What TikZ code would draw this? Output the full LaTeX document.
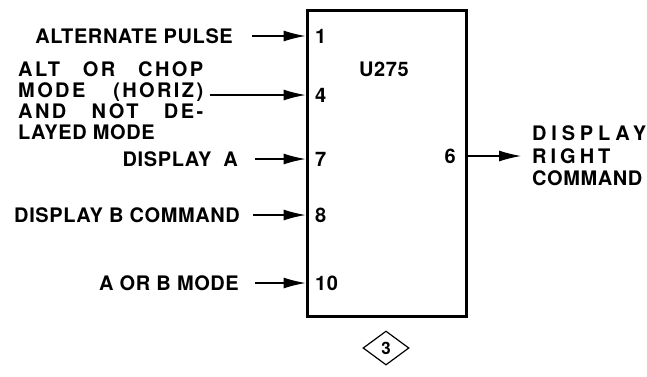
\documentclass[tikz,border=0pt]{standalone}
\usepackage{fontspec}
\setmainfont{TeX Gyre Heros}[LetterSpace=3]
\usetikzlibrary{arrows.meta,shapes.geometric}

\begin{document}
\begin{tikzpicture}[x=1pt, y=-1pt, font=\fontsize{20}{21}\selectfont\bfseries,
    sig/.style={line width=1.1pt, -{Latex[length=22pt,width=11pt]}},
    lbl/.style={inner sep=0pt, anchor=east},
    pin/.style={inner sep=0pt, anchor=west},
    spread/.style={font=\fontsize{20}{21}\selectfont\bfseries\addfontfeature{LetterSpace=12}}]
  \useasboundingbox (0,0) rectangle (647,376);
  \node[draw, line width=3pt, minimum width=159pt, minimum height=306pt, inner sep=0pt] (u275box) at (386.5,163) {};
  \node[inner sep=0pt] (u275) at (384,69) {U275};
  % inputs
  \node[lbl] (altpulse) at (233,36) {ALTERNATE PULSE};
  \node[inner sep=0pt, anchor=north west, align=left, spread] (altchop) at (18,61)
    {\makebox[185pt][s]{ALT OR CHOP}\\\makebox[185pt][s]{MODE (HORIZ)}\\\makebox[185pt][s]{AND NOT DE-}\\{\addfontfeature{LetterSpace=3}LAYED MODE}};
  \node[lbl] (dispa) at (238,159) {DISPLAY\hspace{0.6em}A};
  \node[lbl] (dispb) at (240,215) {DISPLAY B COMMAND};
  \node[lbl] (abmode) at (239,283) {A OR B MODE};
  \coordinate (c4) at (210,95);
  \node[pin] (n1) at (315,36) {1};
  \node[pin] (n4) at (315,95) {4};
  \node[pin] (n7) at (315,159) {7};
  \node[pin] (n8) at (315,215) {8};
  \node[pin] (n10) at (315,283) {10};
  \draw[sig] ([xshift=19pt]altpulse.east) -- (u275box.west |- n1);
  \draw[sig] (c4) -- (u275box.west |- n4);
  \draw[sig] ([xshift=17pt]dispa.east) -- (u275box.west |- n7);
  \draw[sig] ([xshift=13pt]dispb.east) -- (u275box.west |- n8);
  \draw[sig] ([xshift=16pt]abmode.east) -- (u275box.west |- n10);
  % output
  \node[inner sep=0pt, anchor=east] (n6) at (456,156) {6};
  \coordinate (c6) at (521,156);
  \node[inner sep=0pt, anchor=west, align=left, font=\fontsize{20}{22.5}\selectfont\bfseries] (dispright) at (532,156)
    {{\addfontfeature{LetterSpace=24}DISPLAY}\\{\addfontfeature{LetterSpace=20}RIGHT}\\COMMAND};
  \draw[sig] (u275box.east |- n6) -- (c6);
  \node[diamond, draw, line width=1.2pt, aspect=1.35, minimum width=46pt, minimum height=34pt, inner sep=0pt, font=\fontsize{17}{18}\selectfont\bfseries] (ref3) at (386,348) {3};
\end{tikzpicture}
\end{document}
